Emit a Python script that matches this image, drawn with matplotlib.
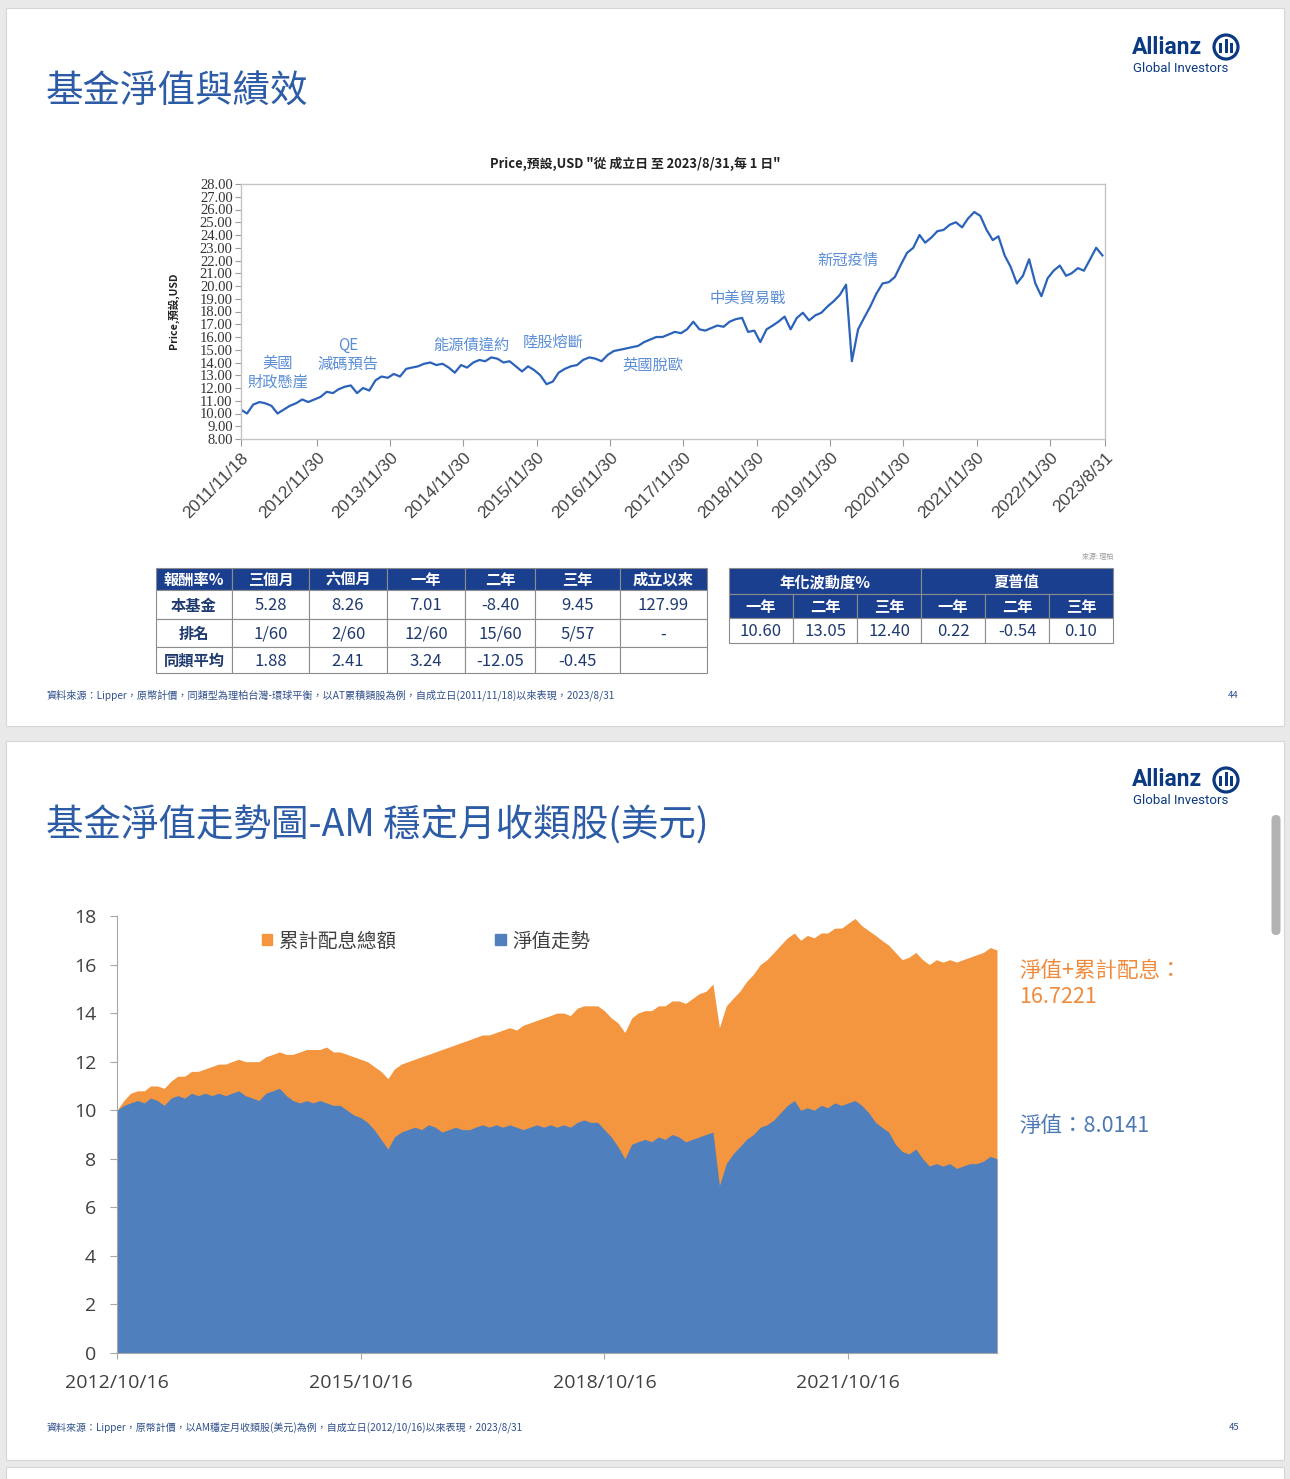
import numpy as np
import pandas as pd
import matplotlib
matplotlib.use('Agg')
import matplotlib.pyplot as plt
from matplotlib.patches import Rectangle, Circle, FancyBboxPatch, Patch

plt.rcParams['font.family'] = ['Noto Sans CJK TC', 'DejaVu Sans']

W, H = 1290, 1479

# ---- slide 44: price line (monthly reads, AT acc. class, USD), from 2011/11/18
price_start = '2011-11-18'
price = [10.3, 10.0,
         10.7, 10.9, 10.8, 10.6, 10.0, 10.3, 10.6, 10.8, 11.1, 10.9, 11.1, 11.3,
         11.7, 11.6, 11.9, 12.1, 12.2, 11.6, 12.0, 11.8, 12.6, 12.9, 12.8, 13.1,
         12.9, 13.5, 13.6, 13.7, 13.9, 14.0, 13.8, 13.9, 13.6, 13.2, 13.8, 13.6,
         14.0, 14.2, 14.1, 14.4, 14.3, 14.0, 14.1, 13.7, 13.3, 13.7, 13.4, 13.0,
         12.3, 12.5, 13.2, 13.5, 13.7, 13.8, 14.2, 14.4, 14.3, 14.1, 14.6, 14.9,
         15.0, 15.1, 15.2, 15.3, 15.6, 15.8, 16.0, 16.0, 16.2, 16.4, 16.3, 16.6,
         17.2, 16.6, 16.5, 16.7, 16.9, 16.8, 17.2, 17.4, 17.5, 16.4, 16.5, 15.6,
         16.6, 16.9, 17.2, 17.6, 16.6, 17.5, 17.9, 17.3, 17.7, 17.9, 18.4, 18.8,
         19.3, 20.1, 14.1, 16.6, 17.5, 18.4, 19.4, 20.2, 20.3, 20.7, 21.7, 22.6,
         23.0, 24.0, 23.4, 23.8, 24.3, 24.4, 24.8, 25.0, 24.6, 25.3, 25.8, 25.5,
         24.4, 23.6, 23.9, 22.4, 21.5, 20.2, 20.8, 22.1, 20.2, 19.2, 20.6, 21.2,
         21.6, 20.8, 21.0, 21.4, 21.2, 22.1, 23.0, 22.4]
price_end = '2023-08-31'
price_ticks = ['2011/11/18', '2012/11/30', '2013/11/30', '2014/11/30', '2015/11/30',
               '2016/11/30', '2017/11/30', '2018/11/30', '2019/11/30', '2020/11/30',
               '2021/11/30', '2022/11/30', '2023/8/31']
events = ['美國', '財政懸崖', 'QE', '減碼預告', '能源債違約', '陸股熔斷', '英國脫歐', '中美貿易戰', '新冠疫情']

# ---- slide 44: tables
ret_cols = ['報酬率%', '三個月', '六個月', '一年', '二年', '三年', '成立以來']
ret_rows = ['本基金', '排名', '同類平均']
ret_fund = ['5.28', '8.26', '7.01', '-8.40', '9.45', '127.99']
ret_rank = ['1/60', '2/60', '12/60', '15/60', '5/57', '-']
ret_peer = ['1.88', '2.41', '3.24', '-12.05', '-0.45', '']
risk_groups = ['年化波動度%', '夏普值']
risk_periods = ['一年', '二年', '三年']
vol = ['10.60', '13.05', '12.40']
sharpe = ['0.22', '-0.54', '0.10']

# ---- slide 45: AM class stacked area (monthly reads), from 2012/10/16
am_start = '2012-10-16'
nav = [10.0, 10.2, 10.3,
       10.4, 10.3, 10.5, 10.4, 10.2, 10.5, 10.6, 10.5, 10.7, 10.6, 10.7, 10.6,
       10.7, 10.6, 10.7, 10.8, 10.6, 10.5, 10.4, 10.7, 10.8, 10.9, 10.6, 10.4,
       10.3, 10.4, 10.3, 10.4, 10.3, 10.2, 10.2, 10.0, 9.8, 9.7, 9.5, 9.2,
       8.8, 8.4, 8.9, 9.1, 9.2, 9.3, 9.2, 9.4, 9.3, 9.1, 9.2, 9.3,
       9.2, 9.2, 9.3, 9.4, 9.3, 9.4, 9.3, 9.4, 9.3, 9.2, 9.3, 9.4,
       9.3, 9.4, 9.3, 9.4, 9.3, 9.5, 9.6, 9.5, 9.5, 9.2, 8.9, 8.5,
       8.0, 8.6, 8.7, 8.8, 8.7, 8.9, 8.8, 9.0, 8.9, 8.7, 8.8, 8.9,
       9.0, 9.1, 6.9, 7.8, 8.2, 8.5, 8.8, 9.0, 9.3, 9.4, 9.6, 9.9,
       10.2, 10.4, 10.0, 10.1, 10.0, 10.2, 10.1, 10.3, 10.2, 10.3, 10.4, 10.2,
       9.9, 9.5, 9.3, 9.1, 8.6, 8.3, 8.2, 8.4, 8.0, 7.7, 7.8, 7.7,
       7.8, 7.6, 7.7, 7.8, 7.8, 7.9, 8.1, 8.0]
total = [10.0, 10.4, 10.7,
         10.8, 10.8, 11.0, 11.0, 10.9, 11.2, 11.4, 11.4, 11.6, 11.6, 11.7, 11.8,
         11.9, 11.9, 12.0, 12.1, 12.0, 12.0, 12.0, 12.2, 12.3, 12.4, 12.3, 12.3,
         12.4, 12.5, 12.5, 12.5, 12.6, 12.4, 12.4, 12.3, 12.2, 12.1, 12.0, 11.8,
         11.6, 11.3, 11.7, 11.9, 12.0, 12.1, 12.2, 12.3, 12.4, 12.5, 12.6, 12.7,
         12.8, 12.9, 13.0, 13.1, 13.1, 13.2, 13.3, 13.4, 13.3, 13.5, 13.6, 13.7,
         13.8, 13.9, 14.0, 14.0, 13.9, 14.2, 14.3, 14.3, 14.3, 14.1, 13.8, 13.6,
         13.2, 13.8, 14.0, 14.1, 14.1, 14.3, 14.3, 14.5, 14.5, 14.4, 14.6, 14.8,
         14.9, 15.2, 13.4, 14.3, 14.6, 14.9, 15.3, 15.6, 16.0, 16.2, 16.5, 16.8,
         17.1, 17.3, 17.0, 17.2, 17.1, 17.3, 17.3, 17.5, 17.5, 17.7, 17.9, 17.6,
         17.4, 17.2, 17.0, 16.8, 16.5, 16.2, 16.3, 16.5, 16.2, 16.0, 16.2, 16.1,
         16.2, 16.1, 16.2, 16.3, 16.4, 16.5, 16.7, 16.6]
am_ticks = ['2012/10/16', '2015/10/16', '2018/10/16', '2021/10/16']
am_series = ['累計配息總額', '淨值走勢']
total_last = '16.7221'
nav_last = '8.0141'

NAVY = '#0b3a82'
TITLE = '#2d5ca6'
BODY = '#1f3a6e'
HEAD = '#1b3f8f'
LINE = '#2b63b9'
EVENT = '#5b8ed6'
ORANGE = '#f4953f'
BLUE = '#4f80bd'

fig = plt.figure(figsize=(W / 100, H / 100), dpi=100)
fig.patch.set_facecolor('#e9e9e9')

# pixel-space overlay for slides, tables and free text
bg = fig.add_axes([0, 0, 1, 1])
bg.set_xlim(0, W)
bg.set_ylim(H, 0)
bg.axis('off')
bg.set_zorder(-1)

for y0, h in [(8, 718), (741, 719), (1467, 30)]:
    bg.add_patch(Rectangle((6, y0), 1278, h, fc='white', ec='#d6d6d6', lw=0.8))
bg.add_patch(FancyBboxPatch((1271.5, 815), 9, 120, boxstyle='round,pad=0,rounding_size=4.5',
                            fc='#b3b3b3', ec='none'))


def logo(yc):
    bg.text(1132, yc, 'Allianz', family='Roboto', weight='bold', fontsize=16.5,
            color=NAVY, va='center', ha='left')
    bg.add_patch(Circle((1226, yc), 12, fill=False, ec=NAVY, lw=2.3))
    bg.add_patch(Rectangle((1219, yc - 4), 3, 10, fc=NAVY, ec='none'))
    bg.add_patch(Rectangle((1224.5, yc - 8), 3, 14, fc=NAVY, ec='none'))
    bg.add_patch(Rectangle((1230, yc - 4), 3, 10, fc=NAVY, ec='none'))
    bg.text(1133, yc + 21, 'Global Investors', family='Roboto', fontsize=9.5,
            color=NAVY, va='center', ha='left')


logo(47)
logo(780)

bg.text(46, 91, '基金淨值與績效', fontsize=27, color=TITLE, va='center', ha='left')
bg.text(46, 825, '基金淨值走勢圖-AM 穩定月收類股(美元)', fontsize=27, color=TITLE,
        va='center', ha='left')

# ---------------- top chart ----------------
ax1 = fig.add_axes([241 / W, 1 - 439 / H, 864 / W, 255 / H])
d1 = pd.date_range(price_start, periods=len(price), freq=pd.DateOffset(months=1))
ax1.plot(d1, price, color=LINE, lw=1.6)
ax1.set_ylim(8, 28)
ax1.set_xlim(pd.Timestamp(price_start), pd.Timestamp(price_end))
yt = np.arange(8, 29, 1)
ax1.set_yticks(yt)
ax1.set_yticklabels([f'{v:.2f}' for v in yt], family='Liberation Serif', fontsize=10.5,
                    color='#333333')
ax1.set_xticks(pd.to_datetime(price_ticks, format='%Y/%m/%d'))
ax1.set_xticklabels(price_ticks, rotation=45, ha='right', rotation_mode='anchor',
                    family='Liberation Sans', fontsize=12.5, color='#444444')
ax1.tick_params(axis='y', length=4, color='#9a9a9a', pad=2)
ax1.tick_params(axis='x', length=5, color='#9a9a9a', pad=3)
for s in ax1.spines.values():
    s.set_color('#c4c4c4')
    s.set_linewidth(1)

bg.text(635, 164, 'Price,預設,USD "從 成立日 至 2023/8/31,每 1 日"', fontsize=9.3,
        weight='bold', color='#222222', ha='center', va='center')
bg.text(173, 311, 'Price,預設,USD', fontsize=7.6, weight='bold', color='#222222',
        rotation=90, ha='center', va='center')

ev_pos = [(278, 363), (278, 382), (348, 345), (348, 364), (471, 345), (553, 342),
          (653, 365), (748, 298), (848, 260)]
for txt, (x, y) in zip(events, ev_pos):
    ax1.text(x, y, txt, transform=bg.transData, fontsize=11, color=EVENT,
             ha='center', va='center')

bg.text(1113, 557, '來源: 理柏', fontsize=5, color='#9a9a9a', ha='right', va='center')


def cell(x0, x1, y0, y1, text, fc='white', color=BODY, weight='normal', size=12):
    bg.add_patch(Rectangle((x0, y0), x1 - x0, y1 - y0, fc=fc, ec='#8c8c8c', lw=0.8))
    bg.text((x0 + x1) / 2, (y0 + y1) / 2 + 1, text, ha='center', va='center',
            color=color, fontsize=size, weight=weight)


# returns table
cx = [156, 232, 309, 387, 465, 535, 620, 707]
ry = [568, 590, 619, 647, 673]
for i, c in enumerate(ret_cols):
    cell(cx[i], cx[i + 1], ry[0], ry[1], c, fc=HEAD, color='white', size=11, weight='bold')
for r, (name, vals) in enumerate(zip(ret_rows, [ret_fund, ret_rank, ret_peer])):
    cell(cx[0], cx[1], ry[r + 1], ry[r + 2], name, weight='bold', size=11)
    for i, v in enumerate(vals):
        cell(cx[i + 1], cx[i + 2], ry[r + 1], ry[r + 2], v, size=12)

# risk table
kx = [729, 793, 857, 921, 985, 1049, 1113]
ky = [568, 594, 618, 643]
for g, name in enumerate(risk_groups):
    cell(kx[3 * g], kx[3 * g + 3], ky[0], ky[1], name, fc=HEAD, color='white', size=11,
         weight='bold')
    for j, p in enumerate(risk_periods):
        cell(kx[3 * g + j], kx[3 * g + j + 1], ky[1], ky[2], p, fc=HEAD, color='white',
             size=11, weight='bold')
for j, v in enumerate(vol + sharpe):
    cell(kx[j], kx[j + 1], ky[2], ky[3], v, size=12)

bg.text(47, 695, '資料來源：Lipper，原幣計價，同類型為理柏台灣-環球平衡，以AT累積類股為例，'
        '自成立日(2011/11/18)以來表現，2023/8/31', fontsize=7.3, color='#2f4f8a', va='center')
bg.text(1239, 695, '44', fontsize=6.8, color='#2f4f8a', va='center', ha='right')

# ---------------- bottom chart ----------------
ax2 = fig.add_axes([117 / W, 1 - 1353 / H, 880 / W, 437 / H])
d2 = pd.date_range(am_start, periods=len(nav), freq=pd.DateOffset(months=1))
ax2.fill_between(d2, 0, total, color=ORANGE, lw=0)
ax2.fill_between(d2, 0, nav, color=BLUE, lw=0)
ax2.set_ylim(0, 18)
ax2.set_xlim(d2[0], d2[-1])
ax2.set_yticks(np.arange(0, 19, 2))
ax2.set_yticklabels([str(v) for v in range(0, 19, 2)], family='Open Sans', fontsize=14,
                    color='#404040')
ax2.set_xticks(pd.to_datetime(am_ticks, format='%Y/%m/%d'))
ax2.set_xticklabels(am_ticks, family='Open Sans', fontsize=14, color='#404040')
ax2.tick_params(axis='y', length=5, color='#a6a6a6', pad=10)
ax2.tick_params(axis='x', length=4, color='#a6a6a6', pad=11)
ax2.spines['top'].set_visible(False)
ax2.spines['right'].set_visible(False)
ax2.spines['left'].set_color('#a6a6a6')
ax2.spines['bottom'].set_color('#a6a6a6')

handles = [Patch(color=ORANGE), Patch(color=BLUE)]
ax2.legend(handles, am_series, ncol=2, loc='center left', frameon=False,
           bbox_to_anchor=(244 / W, 1 - 941 / H), bbox_transform=fig.transFigure,
           handlelength=0.55, handleheight=0.55, handletextpad=0.35, columnspacing=5.1,
           prop={'size': 14}, labelcolor='#404040')

bg.text(1019, 971, '淨值+累計配息：', fontsize=15.5, color='#f08a3a', va='center', ha='left')
bg.text(1019, 997, total_last, fontsize=15.5, color='#f08a3a', va='center', ha='left')
bg.text(1019, 1126, '淨值：' + nav_last, fontsize=15.5, color='#4c78b5', va='center', ha='left')

bg.text(47, 1428, '資料來源：Lipper，原幣計價，以AM穩定月收類股(美元)為例，'
        '自成立日(2012/10/16)以來表現，2023/8/31', fontsize=7.2, color='#2f4f8a', va='center')
bg.text(1239, 1428, '45', fontsize=6.8, color='#2f4f8a', va='center', ha='right')

fig.savefig('out.png', dpi=100, facecolor=fig.get_facecolor())
